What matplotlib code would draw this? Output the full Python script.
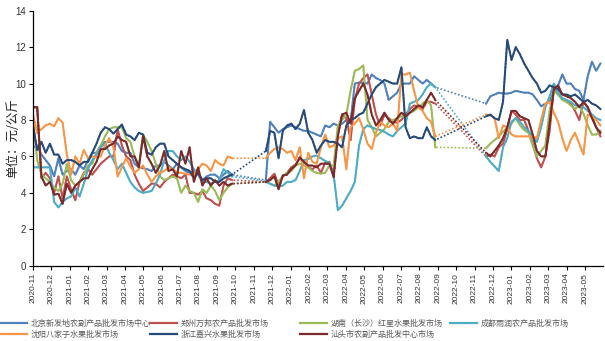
import numpy as np
import matplotlib
matplotlib.use("Agg")
import matplotlib.pyplot as plt
from matplotlib.lines import Line2D

plt.rcParams["font.family"] = ["Liberation Sans", "Noto Sans CJK SC", "DejaVu Sans"]

# month tick labels (one tick per month, weekly data in between)
month_labels = [
    "2020-11", "2020-12", "2021-01", "2021-02", "2021-03", "2021-04", "2021-05",
    "2021-06", "2021-07", "2021-08", "2021-09", "2021-10", "2021-11", "2021-12",
    "2022-01", "2022-02", "2022-03", "2022-04", "2022-05", "2022-06", "2022-07",
    "2022-08", "2022-09", "2022-10", "2022-11", "2022-12", "2023-01", "2023-02",
    "2023-03", "2023-04", "2023-05",
]
WEEKS_PER_MONTH = 4.345
N_WEEKS = 135
GAP1 = [None] * 7    # weeks without quotes, bridged by dotted lines
GAP2 = [None] * 11

# weekly prices, 元/公斤
beijing = [6.5, 6.6, 6.1, 5.8, 5.5, 4.9, 5.9, 5.0, 5.2, 5.3, 5.0, 5.5, 5.3, 5.8, 6.2, 6.2,
           6.6, 6.8, 6.8, 6.8, 6.7, 6.3, 6.2, 6.2, 5.6, 5.4, 5.35, 5.3, 5.2, 5.5, 5.5, 5.7,
           5.5, 5.3, 5.6, 5.4, 5.2, 5.1, 5.2, 5.0, 4.7, 4.9, 5.0, 5.0, 4.8, 5.0, 5.2, 5.0] + GAP1 + \
          [4.7, 7.9, 7.6, 7.3, 7.5, 7.6, 7.7, 7.6, 7.5, 7.4, 7.4, 7.3, 7.2, 7.1, 7.7, 7.6,
           7.8, 7.7, 7.8, 8.0, 7.9, 10.0, 10.05, 10.05, 10.0, 10.5, 10.3, 10.2, 10.0, 9.1,
           9.3, 9.5, 10.0, 10.0, 10.0, 10.4, 10.2, 10.0, 10.2, 10.0, 9.8] + GAP2 + \
          [8.9, 9.3, 9.4, 9.5, 9.45, 9.45, 9.5, 9.6, 9.55, 9.5, 9.5, 9.4, 9.1, 8.75, 8.9,
           9.0, 9.6, 9.9, 10.5, 10.0, 10.0, 9.7, 9.6, 9.1, 10.4, 11.2, 10.7, 11.1]

zhengzhou = [8.7, 8.7, 4.8, 5.1, 4.8, 4.0, 4.9, 3.7, 4.9, 4.2, 3.6, 4.6, 5.1, 5.3, 5.0, 5.3,
             5.6, 5.8, 6.0, 6.0, 7.5, 6.6, 6.0, 5.8, 5.0, 4.5, 4.1, 4.3, 4.5, 4.5, 4.3, 4.6,
             4.8, 5.0, 4.9, 4.8, 5.0, 4.0, 4.0, 3.9, 4.1, 3.7, 3.6, 3.4, 3.3, 4.4, 4.8, 4.7] + GAP1 + \
            [4.6, 4.8, 5.05, 4.45, 4.9, 5.1, 5.4, 5.55, 5.9, 5.7, 5.4, 5.3, 5.5, 5.1, 5.65,
             5.7, 5.0, 7.4, 8.3, 8.1, 6.9, 9.1, 10.0, 10.3, 10.5, 9.4, 8.3, 7.7, 8.3, 8.1,
             7.9, 7.85, 8.0, 8.3, 8.6, 8.8, 8.7, 8.6, 9.0, 9.0, 8.9] + GAP2 + \
            [6.0, 6.1, 6.0, 6.5, 6.7, 7.5, 8.5, 8.3, 8.0, 8.0, 7.4, 6.7, 5.9, 5.4, 6.0, 7.4,
             9.7, 9.4, 9.2, 9.0, 8.9, 8.5, 8.0, 9.0, 8.7, 8.2, 7.6, 7.1]

hunan = [8.0, 5.8, 5.0, 4.8, 4.6, 4.3, 4.1, 4.5, 5.6, 4.7, 4.4, 4.6, 5.0, 5.5, 5.6, 6.2,
         6.6, 7.1, 7.5, 7.6, 7.6, 7.6, 7.0, 6.8, 6.0, 5.5, 7.2, 6.8, 6.3, 5.6, 4.9, 4.7,
         4.8, 4.9, 4.8, 4.0, 4.4, 4.1, 4.0, 3.5, 4.2, 4.0, 4.4, 4.1, 3.6, 4.0, 4.3, 4.5] + GAP1 + \
        [4.6, 4.5, 4.4, 4.6, 4.95, 5.1, 5.2, 5.5, 5.6, 5.5, 5.4, 5.2, 5.1, 5.05, 5.1, 5.5,
         5.5, 7.7, 8.0, 8.3, 9.6, 10.7, 10.8, 11.0, 8.0, 7.6, 7.1, 7.3, 7.5, 7.9, 8.0, 8.1,
         8.2, 8.2, 8.4, 8.5, 8.7, 8.9, 9.1, 8.8, 6.5] + GAP2 + \
        [6.45, 6.7, 6.9, 7.1, 7.35, 7.6, 7.8, 8.1, 7.7, 7.45, 7.3, 6.6, 6.0, 6.3, 6.6, 8.5,
         9.6, 9.4, 9.1, 9.0, 8.8, 8.6, 8.8, 8.35, 7.7, 7.2, 7.2, 7.4]

chengdu = [5.4, 5.4, 5.4, 5.4, 5.4, 3.5, 3.2, 3.5, 3.7, 3.8, 4.3, 3.8, 4.5, 5.3, 5.8, 6.1,
           6.5, 6.7, 6.2, 5.8, 5.3, 5.6, 5.1, 4.6, 4.3, 4.1, 4.0, 4.05, 4.1, 4.5, 5.0, 5.8,
           6.3, 6.3, 6.0, 5.8, 6.0, 5.7, 5.3, 5.0, 4.6, 4.6, 4.5, 4.6, 4.7, 5.3, 5.1, 4.9] + GAP1 + \
          [4.65, 4.5, 4.4, 4.35, 4.4, 4.6, 4.6, 4.7, 5.2, 5.8, 5.85, 6.0, 6.05, 5.9, 5.75,
           5.65, 5.0, 3.05, 3.3, 3.7, 4.1, 4.6, 6.6, 7.5, 7.7, 7.6, 7.5, 7.45, 7.35, 7.2,
           7.1, 7.4, 7.6, 7.8, 8.9, 9.0, 9.1, 9.4, 9.8, 10.0, 9.8] + GAP2 + \
          [6.0, 5.7, 5.45, 5.2, 6.5, 7.0, 7.9, 8.1, 7.9, 7.6, 7.4, 7.1, 6.8, 7.6, 8.7, 9.3,
           10.0, 9.5, 9.2, 9.1, 9.0, 8.8, 8.8, 8.7, 8.5, 8.3, 8.1, 8.0]

shenyang = [8.3, 7.3, 7.5, 7.7, 7.8, 7.65, 8.1, 7.85, 6.1, 5.0, 6.0, 5.6, 6.35, 5.9, 6.0,
            5.95, 6.0, 6.6, 7.0, 6.5, 4.9, 5.4, 5.9, 5.45, 5.1, 5.3, 5.5, 5.0, 4.6, 4.9,
            5.1, 5.2, 5.4, 5.3, 5.1, 5.1, 5.05, 5.0, 5.0, 5.3, 5.6, 5.5, 5.2, 5.8, 5.6, 5.5,
            6.0, 5.9] + GAP1 + \
           [5.9, 6.2, 6.4, 6.5, 6.4, 6.2, 6.3, 5.8, 6.5, 4.8, 6.2, 5.7, 5.6, 6.5, 7.2, 6.5,
            6.6, 7.0, 7.1, 5.3, 7.6, 7.8, 8.1, 7.5, 6.7, 6.4, 7.3, 7.9, 7.7, 7.6, 7.8, 7.4,
            10.5, 10.5, 10.6, 9.6, 8.7, 8.5, 8.1, 7.9, 7.1] + GAP2 + \
           [8.3, 8.25, 8.1, 7.0, 7.7, 7.6, 7.2, 7.1, 7.1, 7.1, 7.1, 7.1, 7.0, 8.0, 8.9, 9.0,
            8.4, 7.9, 7.0, 6.3, 6.9, 7.3, 6.7, 6.1, 8.3, 8.2, 8.0, 7.7]

zhejiang = [7.7, 6.35, 6.8, 6.2, 6.7, 6.1, 6.1, 5.6, 5.8, 5.8, 5.7, 5.5, 5.7, 5.7, 6.2, 6.7,
            7.3, 7.6, 7.5, 7.25, 7.5, 7.75, 7.2, 7.1, 6.9, 7.3, 7.2, 6.2, 6.1, 6.5, 6.7, 6.7,
            6.0, 5.8, 5.6, 5.4, 5.3, 5.2, 4.8, 5.1, 4.7, 4.8, 4.8, 4.6, 4.6, 4.8, 4.9, 5.0] + GAP1 + \
           [6.3, 7.4, 7.3, 5.9, 7.4, 7.7, 7.8, 7.5, 7.8, 8.55, 7.3, 6.9, 6.2, 6.6, 6.9, 6.8,
            6.8, 6.7, 6.5, 7.7, 8.0, 8.1, 8.3, 8.4, 8.9, 9.4, 9.8, 10.0, 10.2, 10.1, 10.0,
            10.0, 10.9, 7.6, 7.0, 7.1, 7.0, 7.0, 7.6, 7.1, 6.9] + GAP2 + \
           [8.2, 8.3, 8.1, 8.0, 9.0, 12.4, 11.3, 12.0, 11.6, 11.1, 10.7, 10.3, 10.0, 9.5, 9.6,
            9.9, 9.8, 9.7, 9.4, 9.4, 9.3, 9.4, 9.2, 9.0, 9.1, 8.9, 8.8, 8.6]

shantou = [8.7, 8.7, 4.9, 4.4, 4.6, 3.9, 3.95, 3.4, 4.5, 4.0, 4.4, 4.6, 4.8, 4.8, 5.3, 5.7,
           6.4, 6.4, 6.6, 6.7, 7.1, 6.9, 6.8, 6.0, 6.0, 5.4, 7.1, 6.0, 5.6, 5.1, 5.5, 6.3,
           5.2, 5.3, 4.9, 6.3, 5.6, 6.5, 4.6, 5.4, 4.4, 4.8, 4.4, 4.7, 4.4, 4.6, 4.4, 4.5] + GAP1 + \
          [4.6, 4.7, 4.9, 4.2, 4.95, 5.0, 5.3, 5.5, 5.95, 5.7, 5.5, 5.5, 5.4, 5.6, 5.6, 5.6,
           4.85, 7.1, 8.3, 8.4, 7.8, 9.2, 9.6, 10.0, 9.4, 8.3, 7.7, 8.0, 8.4, 8.0, 7.8, 8.1,
           8.4, 8.2, 8.4, 8.6, 8.8, 8.7, 9.1, 9.5, 9.1] + GAP2 + \
          [6.2, 6.0, 6.3, 6.6, 7.0, 7.6, 8.5, 8.5, 8.2, 8.1, 8.0, 7.2, 6.3, 6.0, 6.0, 7.8,
           9.7, 9.9, 9.4, 9.3, 9.2, 9.0, 8.7, 9.0, 8.7, 8.1, 7.6, 7.3]

names = ["北京新发地农副产品批发市场中心", "郑州万邦农产品批发市场", "湖南（长沙）红星水果批发市场",
         "成都雨润农产品批发市场", "沈阳八家子水果批发市场", "浙江嘉兴水果批发市场",
         "汕头市农副产品批发中心市场"]
series = [beijing, zhengzhou, hunan, chengdu, shenyang, zhejiang, shantou]
colors = ["#4f81bd", "#c0504d", "#9bbb59", "#4bacc6", "#f79646", "#264a7a", "#7a2a2a"]

x = np.arange(N_WEEKS) / WEEKS_PER_MONTH

fig = plt.figure(figsize=(6.05, 3.41), dpi=100)
ax = fig.add_axes([0.0545, 0.2208, 0.9428, 0.7478])

handles = []
for vals, c, name in zip(series, colors, names):
    y = np.array([np.nan if v is None else v for v in vals], dtype=float)
    ok = ~np.isnan(y)
    # dotted bridge across missing weeks, solid where data exists
    ax.plot(x[ok], y[ok], color=c, lw=1.2, ls=(0, (1, 1.2)))
    ax.plot(x, y, color=c, lw=1.45)
    handles.append(Line2D([], [], color=c, lw=1.6, label=name))

ax.set_xlim(0, 31.0)
ax.set_ylim(0, 14)
ax.set_yticks(range(0, 15, 2))
ax.set_xticks(range(len(month_labels)))
ax.set_xticklabels(month_labels, rotation=90, fontsize=6, color="#333333")
ax.tick_params(axis="y", labelsize=7, labelcolor="#333333", length=3, width=0.8, pad=2)
ax.tick_params(axis="x", length=3, width=0.8, pad=2)
for s in ["top", "right"]:
    ax.spines[s].set_visible(False)
for s in ["left", "bottom"]:
    ax.spines[s].set_linewidth(0.9)
    ax.spines[s].set_color("black")
ax.set_ylabel("单位：元/公斤", fontsize=9, color="#222222", labelpad=-3,
              family=["Noto Sans CJK SC", "DejaVu Sans"])

# legend: 4 equal-width columns under the axis
legend_cols = [[0, 4], [1, 5], [2, 6], [3]]
for i, idx in enumerate(legend_cols):
    leg = fig.legend(handles=[handles[j] for j in idx], loc="upper left",
                     bbox_to_anchor=(0.0 + i * 150 / 605, 0.066), frameon=False,
                     prop={"family": ["Noto Sans CJK SC", "DejaVu Sans"], "size": 5.8},
                     handlelength=3.4, handletextpad=0.45, labelspacing=0.25,
                     borderpad=0, borderaxespad=0)
    for t in leg.get_texts():
        t.set_color("#595959")

fig.savefig("out.png", dpi=100)
